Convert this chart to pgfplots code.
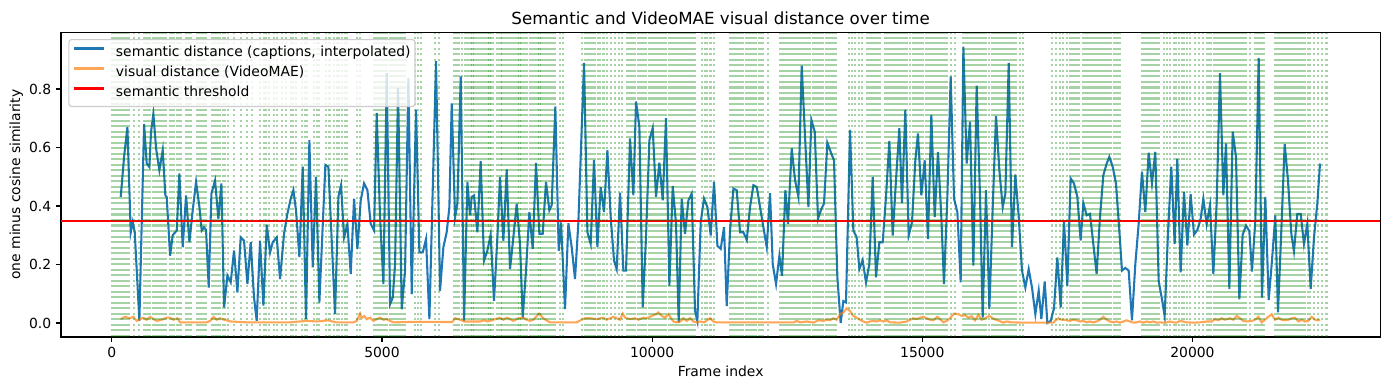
\documentclass[border=0pt]{standalone}
\usepackage{fontspec}
\setmainfont{DejaVu Sans}
\usepackage{pgfplots}
\pgfplotsset{compat=1.18}
\definecolor{tabblue}{HTML}{1F77B4}
\definecolor{taborange}{HTML}{FF7F0E}
\definecolor{mplgreen}{HTML}{008000}
\definecolor{legendedge}{gray}{0.8}
\begin{document}
\begin{tikzpicture}
\begin{axis}[
  scale only axis, width=949.8pt, height=219.2pt,
  xmin=-940, xmax=23475, ymin=-0.048, ymax=0.993,
  axis line style={line width=0.8pt},
  tick style={line width=0.8pt, black},
  major tick length=3.5pt, tick align=outside,
  xtick pos=left, ytick pos=left,
  xtick={0,5000,10000,15000,20000},
  ytick={0,0.2,0.4,0.6,0.8},
  scaled x ticks=false, scaled y ticks=false,
  /pgf/number format/assume math mode=true,
  xticklabel style={/pgf/number format/set thousands separator={}},
  yticklabel style={/pgf/number format/fixed, /pgf/number format/fixed zerofill, /pgf/number format/precision=1},
  every axis title shift=0pt,
  title={Semantic and VideoMAE visual distance over time},
  title style={font=\fontsize{12}{14}\selectfont, at={(axis description cs:0.5,1.0274)}, anchor=base},
  xlabel={Frame index},
  xlabel style={at={(axis description cs:0.5,-0.130)}, anchor=base},
  ylabel={one minus cosine similarity},
  ylabel style={at={(axis description cs:-0.0309,0.5)}, anchor=base, rotate=0},
  legend style={at={(axis description cs:0,1)}, anchor=north west, xshift=5.3pt, yshift=-4.7pt,
    draw=legendedge, line width=0.8pt, rounded corners=2pt, fill=white, fill opacity=0.8, draw opacity=1, text opacity=1,
    inner xsep=3.2pt, inner ysep=2.5pt, row sep=0pt,
    nodes={inner sep=0pt, text height=7.6pt, text depth=2.3pt, minimum height=14.4pt},
    /tikz/every odd column/.append style={column sep=7.6pt}},
  legend cell align=left,
  legend image code/.code={\draw[#1] (0pt,3.3pt) -- (21.6pt,3.3pt);},
]
\coordinate (sw) at (rel axis cs:0,0);
\coordinate (ne) at (rel axis cs:1,1);
\addplot[tabblue, line width=1.5pt] coordinates {
(166,0.431) (228,0.568) (289,0.670) (351,0.310) (388,0.345) (425,0.311) (511,0.007) (598,0.680) (647,0.545) (696,0.533) (727,0.654) (770,0.715) (820,0.597) (881,0.522) (943,0.591) (992,0.436) (1017,0.430) (1079,0.230) (1128,0.300) (1202,0.316) (1251,0.511) (1313,0.259) (1375,0.436) (1437,0.276) (1498,0.385) (1560,0.482) (1622,0.396) (1665,0.316) (1708,0.327) (1745,0.318) (1794,0.121) (1844,0.442) (1911,0.487) (1973,0.356) (2029,0.477) (2078,0.053)
(2140,0.162) (2201,0.139) (2263,0.248) (2325,0.104) (2386,0.293) (2448,0.281) (2510,0.133) (2571,0.276) (2633,0.087) (2682,0.007) (2744,0.281) (2806,0.059) (2868,0.336) (2929,0.241) (2979,0.276) (3053,0.293) (3114,0.150) (3188,0.305) (3250,0.373) (3312,0.425) (3361,0.454) (3410,0.385) (3472,0.225) (3534,0.534) (3595,0.013) (3657,0.625) (3719,0.190) (3780,0.499) (3842,0.070) (3953,0.540) (4009,0.534) (4132,0.030) (4194,0.431) (4243,0.471)
(4299,0.293) (4361,0.339) (4422,0.167) (4484,0.425) (4546,0.253) (4607,0.419) (4669,0.477) (4731,0.454) (4792,0.339) (4854,0.316) (4903,0.717) (4965,0.362) (5027,0.133) (5089,0.854) (5150,0.064) (5200,0.087) (5243,0.202) (5298,0.803) (5366,0.047) (5428,0.179) (5489,0.837) (5551,0.099) (5631,0.729) (5693,0.241) (5755,0.241) (5816,0.287) (5878,0.013) (6001,0.895) (6075,0.110) (6137,0.259) (6199,0.311) (6248,0.396) (6291,0.751) (6353,0.362) (6396,0.408) (6458,0.843) (6520,0.007)
(6581,0.482) (6630,0.368) (6661,0.431) (6704,0.436) (6766,0.310) (6827,0.554) (6889,0.213) (6951,0.247) (7012,0.302) (7074,0.076) (7136,0.293) (7185,0.499) (7247,0.281) (7309,0.525) (7370,0.184) (7432,0.293) (7494,0.408) (7555,0.270) (7605,0.018) (7666,0.179) (7728,0.379) (7790,0.253) (7851,0.547) (7913,0.305) (7975,0.305) (8036,0.482) (8098,0.385) (8141,0.402) (8209,0.740) (8271,0.247) (8314,0.344) (8388,0.047) (8450,0.341) (8511,0.259) (8573,0.150) (8635,0.344) (8740,0.889)
(8802,0.310) (8863,0.270) (8925,0.557) (8987,0.259) (9048,0.465) (9110,0.379) (9172,0.591) (9233,0.362) (9295,0.213) (9344,0.184) (9406,0.445) (9468,0.179) (9517,0.179) (9591,0.631) (9653,0.436) (9702,0.757) (9764,0.671) (9826,0.053) (9887,0.293) (9949,0.625) (10011,0.666) (10072,0.431) (10134,0.548) (10196,0.419) (10257,0.700) (10319,0.127) (10381,0.468) (10442,0.340) (10492,0.001) (10547,0.425) (10609,0.305) (10671,0.419) (10732,0.442) (10794,0.041) (10837,0.007) (10899,0.344) (10960,0.425)
(11023,0.396) (11084,0.299) (11146,0.482) (11208,0.264) (11269,0.253) (11331,0.328) (11380,0.058) (11442,0.316) (11504,0.459) (11565,0.454) (11627,0.310) (11689,0.310) (11751,0.284) (11812,0.396) (11874,0.471) (11936,0.465) (11997,0.396) (12059,0.328) (12121,0.259) (12182,0.444) (12232,0.201) (12293,0.133) (12355,0.230) (12404,0.161) (12466,0.454) (12515,0.339) (12583,0.597) (12645,0.488) (12707,0.431) (12768,0.880) (12830,0.637) (12892,0.396) (12947,0.694) (13009,0.654) (13070,0.356) (13132,0.390)
(13181,0.408) (13243,0.616) (13304,0.585) (13366,0.556) (13428,0.156) (13489,0.0) (13539,0.075) (13588,0.070) (13662,0.660) (13724,0.316) (13785,0.293) (13835,0.184) (13896,0.215) (13958,0.138) (14020,0.201) (14082,0.499) (14143,0.156) (14205,0.276) (14267,0.276) (14328,0.431) (14390,0.622) (14452,0.299) (14513,0.488) (14575,0.666) (14624,0.410) (14686,0.729) (14748,0.299) (14809,0.344) (14871,0.556) (14920,0.648) (14982,0.436) (15044,0.556) (15105,0.287) (15167,0.711) (15229,0.362) (15290,0.585) (15352,0.362) (15401,0.133)
(15464,0.431) (15525,0.843) (15587,0.425) (15649,0.379) (15710,0.139) (15760,0.945) (15821,0.545) (15883,0.688) (15945,0.196) (16006,0.811) (16068,0.431) (16117,0.018) (16179,0.454) (16241,0.047) (16303,0.396) (16364,0.708) (16426,0.522) (16488,0.396) (16537,0.442) (16599,0.889) (16660,0.259) (16722,0.508) (16784,0.362) (16845,0.179) (16907,0.121) (16969,0.184) (17030,0.121) (17092,0.030) (17154,0.110) (17203,0.013) (17265,0.142) (17314,0.0) (17376,0.007) (17437,0.050) (17499,0.224) (17561,0.053) (17622,0.350)
(17684,0.127) (17745,0.494) (17807,0.477) (17869,0.431) (17930,0.282) (17980,0.410) (18041,0.368) (18103,0.373) (18165,0.270) (18226,0.167) (18288,0.362) (18350,0.505) (18412,0.545) (18461,0.568) (18523,0.534) (18584,0.477) (18646,0.316) (18695,0.179) (18757,0.188) (18819,0.179) (18880,0.009) (18942,0.201) (19004,0.339) (19065,0.517) (19127,0.379) (19189,0.582) (19250,0.477) (19312,0.585) (19374,0.144) (19435,0.081) (19485,0.024) (19546,0.305) (19608,0.534) (19670,0.270) (19719,0.562) (19781,0.173)
(19843,0.448) (19905,0.265) (19966,0.440) (20028,0.302) (20090,0.318) (20151,0.356) (20201,0.425) (20262,0.337) (20324,0.402) (20386,0.167) (20447,0.408) (20509,0.854) (20571,0.436) (20620,0.614) (20682,0.116) (20744,0.654) (20805,0.568) (20867,0.081) (20929,0.302) (20990,0.333) (21052,0.314) (21101,0.176) (21163,0.351) (21225,0.906) (21286,0.087) (21348,0.431) (21410,0.078) (21471,0.213) (21533,0.368) (21582,0.036) (21644,0.316) (21706,0.612) (21767,0.488) (21829,0.305) (21878,0.245) (21940,0.373) (22002,0.373) (22063,0.270) (22125,0.339) (22187,0.116) (22249,0.293) (22310,0.408) (22360,0.545)
};
\addlegendentry{semantic distance (captions, interpolated)}
\addplot[taborange, draw opacity=0.7, line width=1.5pt] coordinates {
(166,0.013) (246,0.021) (339,0.016) (400,0.021) (462,0.007) (524,0.013) (585,0.018) (647,0.011) (709,0.021) (770,0.013) (832,0.007) (925,0.011) (1017,0.018) (1079,0.018) (1141,0.011) (1214,0.016) (1264,0.002) (1757,0.002) (1819,0.007) (1881,0.021) (1942,0.011) (2004,0.016) (2078,0.011) (2200,0.005) (2500,0.002) (2800,0.002) (3300,0.002) (3600,0.007) (3800,0.005) (4000,0.009) (4150,0.002) (4471,0.002) (4533,0.007) (4595,0.032) (4626,0.016) (4669,0.024) (4718,0.013) (4780,0.018) (4842,0.007) (4903,0.013) (4965,0.018) (5027,0.011) (5089,0.013) (5150,0.007) (5212,0.002) (5700,0.004) (6300,0.003) (6353,0.016) (6446,0.011) (6520,0.005) (6815,0.005) (6889,0.009) (6951,0.005) (7031,0.009) (7093,0.013) (7185,0.018) (7247,0.011) (7309,0.018) (7370,0.013) (7432,0.007) (7524,0.016) (7617,0.018) (7679,0.011) (7740,0.007) (7802,0.011) (7907,0.032) (7987,0.016) (8061,0.007) (8110,0.002) (8600,0.002) (8696,0.011) (8758,0.016) (8851,0.016) (8974,0.013) (9098,0.018) (9159,0.011) (9221,0.016) (9283,0.021) (9344,0.016) (9406,0.011) (9455,0.032) (9499,0.018) (9591,0.013) (9684,0.016) (9745,0.011) (9838,0.018) (9900,0.016) (9992,0.024) (10072,0.030) (10115,0.036) (10177,0.024) (10239,0.018) (10300,0.030) (10393,0.005) (10455,0.002) (10517,0.005) (10578,0.016) (10640,0.007) (10702,0.016) (10763,0.005) (10825,0.002) (10887,0.005) (10960,0.002) (11072,0.016) (11134,0.005) (11200,0.002) (12620,0.002) (12676,0.007) (12738,0.002) (12861,0.005) (12984,0.001) (13076,0.009) (13169,0.007) (13230,0.011) (13292,0.009) (13354,0.016) (13415,0.011) (13477,0.030) (13539,0.036) (13600,0.050) (13662,0.041) (13724,0.024) (13785,0.018) (13847,0.011) (13909,0.005) (13970,0.001) (14032,0.005) (14094,0.007) (14156,0.005) (14217,0.009) (14279,0.005) (14341,0.009) (14402,0.002) (14587,0.001) (14711,0.005) (14772,0.011) (14834,0.016) (14896,0.013) (14957,0.018) (15019,0.021) (15081,0.016) (15143,0.011) (15204,0.009) (15278,0.021) (15340,0.011) (15390,0.002) (15451,0.007) (15513,0.016) (15587,0.032) (15667,0.030) (15729,0.024) (15791,0.027) (15852,0.018) (15914,0.023) (15976,0.009) (16037,0.027) (16099,0.011) (16161,0.016) (16241,0.024) (16303,0.016) (16364,0.011) (16426,0.007) (16500,0.001) (16562,0.005) (16654,0.002) (16870,0.001) (17425,0.001) (17456,0.007) (17517,0.016) (17579,0.011) (17641,0.011) (17672,0.009) (17733,0.007) (17795,0.011) (17856,0.009) (17918,0.005) (17980,0.007) (18041,0.002) (18103,0.005) (18165,0.002) (18226,0.005) (18288,0.011) (18350,0.021) (18412,0.011) (18473,0.005) (18535,0.002) (18597,0.005) (18658,0.001) (18720,0.005) (18782,0.009) (18843,0.005) (18905,0.001) (18967,0.002) (19028,0.005) (19090,0.001) (19152,0.005) (19213,0.002) (19275,0.005) (19337,0.001) (19398,0.002) (19460,0.001) (19522,0.002) (19583,0.005) (19645,0.002) (19707,0.001) (19768,0.007) (19892,0.002) (20016,0.001) (20139,0.002) (20262,0.005) (20355,0.005) (20417,0.013) (20478,0.009) (20540,0.016) (20602,0.011) (20694,0.016) (20756,0.011) (20818,0.024) (20879,0.016) (20941,0.007) (21003,0.005) (21095,0.007) (21157,0.011) (21218,0.021) (21280,0.002) (21342,0.011) (21404,0.021) (21465,0.030) (21527,0.011) (21588,0.018) (21650,0.011) (21712,0.009) (21774,0.011) (21835,0.016) (21897,0.018) (21959,0.005) (22020,0.011) (22082,0.005) (22144,0.007) (22205,0.021) (22267,0.011) (22329,0.009) (22360,0.011)
};
\addlegendentry{visual distance (VideoMAE)}
\addplot[red, line width=1.5pt] coordinates {(-940,0.35) (23475,0.35)};
\addlegendentry{semantic threshold}
\pgfplotstableread{
x
0
40
80
110
150
190
230
270
310
410
511
590
630
670
710
770
810
850
890
930
970
1000
1080
1120
1160
1200
1240
1280
1380
1420
1460
1580
1620
1660
1700
1740
1850
1890
1930
1970
2010
2050
2090
2150
2270
2390
2510
2600
2745
2810
2860
2910
3000
3060
3150
3220
3310
3360
3410
3520
3570
3620
3740
3790
3840
3970
4030
4110
4160
4210
4260
4310
4350
4540
4590
4850
4890
4930
4970
5010
5050
5090
5150
5190
5230
5270
5310
5350
5390
5430
5620
5670
5720
5990
6060
6330
6380
6430
6480
6530
6570
6605
6640
6675
6710
6745
6780
6815
6850
6885
6920
6955
6990
7025
7060
7125
7160
7195
7230
7265
7300
7335
7370
7405
7440
7475
7510
7545
7580
7615
7650
7680
7740
7775
7810
7845
7880
7915
7950
7985
8020
8055
8090
8125
8160
8200
8300
8350
8700
8750
8790
8830
8870
8910
8950
8990
9030
9100
9170
9240
9310
9380
9450
9530
9570
9610
9650
9690
9730
9770
9810
9850
9890
9940
9980
10020
10060
10100
10140
10180
10220
10260
10310
10350
10390
10430
10470
10510
10550
10590
10630
10670
10710
10750
10790
10920
10970
11010
11080
11150
11450
11490
11530
11570
11610
11650
11690
11730
11770
11810
11850
11890
11930
11970
12010
12050
12150
12370
12410
12450
12490
12530
12570
12610
12650
12690
12730
12770
12810
12850
12890
12930
12970
13010
13050
13090
13130
13170
13210
13250
13290
13330
13370
13410
13640
13700
13760
13820
13880
13970
14010
14050
14090
14130
14170
14210
14310
14350
14390
14430
14470
14510
14550
14590
14630
14670
14710
14780
14820
14860
14900
14940
14980
15020
15060
15100
15140
15180
15220
15260
15300
15340
15380
15420
15460
15530
15600
15760
15800
15840
15880
15920
15960
16000
16040
16080
16120
16170
16240
16290
16330
16370
16410
16450
16490
16530
16570
16610
16650
16690
16730
16800
16860
17400
17470
17540
17610
17680
17740
17780
17820
17860
17900
17980
18020
18060
18100
18140
18180
18220
18260
18300
18340
18380
18420
18460
18500
18540
18580
18620
18660
19060
19100
19140
19180
19220
19260
19300
19340
19380
19470
19530
19580
19650
19700
19750
19800
19850
19900
19960
20050
20120
20190
20270
20310
20350
20390
20430
20470
20510
20550
20590
20630
20670
20710
20750
20790
20830
20870
20910
20950
20990
21060
21160
21200
21240
21280
21320
21530
21570
21610
21650
21690
21730
21770
21810
21850
21890
21930
21970
22010
22050
22090
22130
22170
22250
22320
22400
22480
}\shotlines
\pgfplotstablegetrowsof{\shotlines}
\pgfmathtruncatemacro{\nlines}{\pgfplotsretval-1}
\pgfplotsinvokeforeach{0,...,\nlines}{
  \pgfplotstablegetelem{#1}{x}\of{\shotlines}
  \edef\temp{\noexpand\addplot[mplgreen, draw opacity=0.35, line width=1.5pt, dash pattern=on 1.5pt off 2.475pt, forget plot] coordinates {(\pgfplotsretval,-0.048) (\pgfplotsretval,0.993)};}
  \temp
}
\end{axis}
\pgfresetboundingbox
\path[use as bounding box] ([shift={(-43.9pt,-38.2pt)}]sw) rectangle ([shift={(6.3pt,23.4pt)}]ne);
\end{tikzpicture}
\end{document}
